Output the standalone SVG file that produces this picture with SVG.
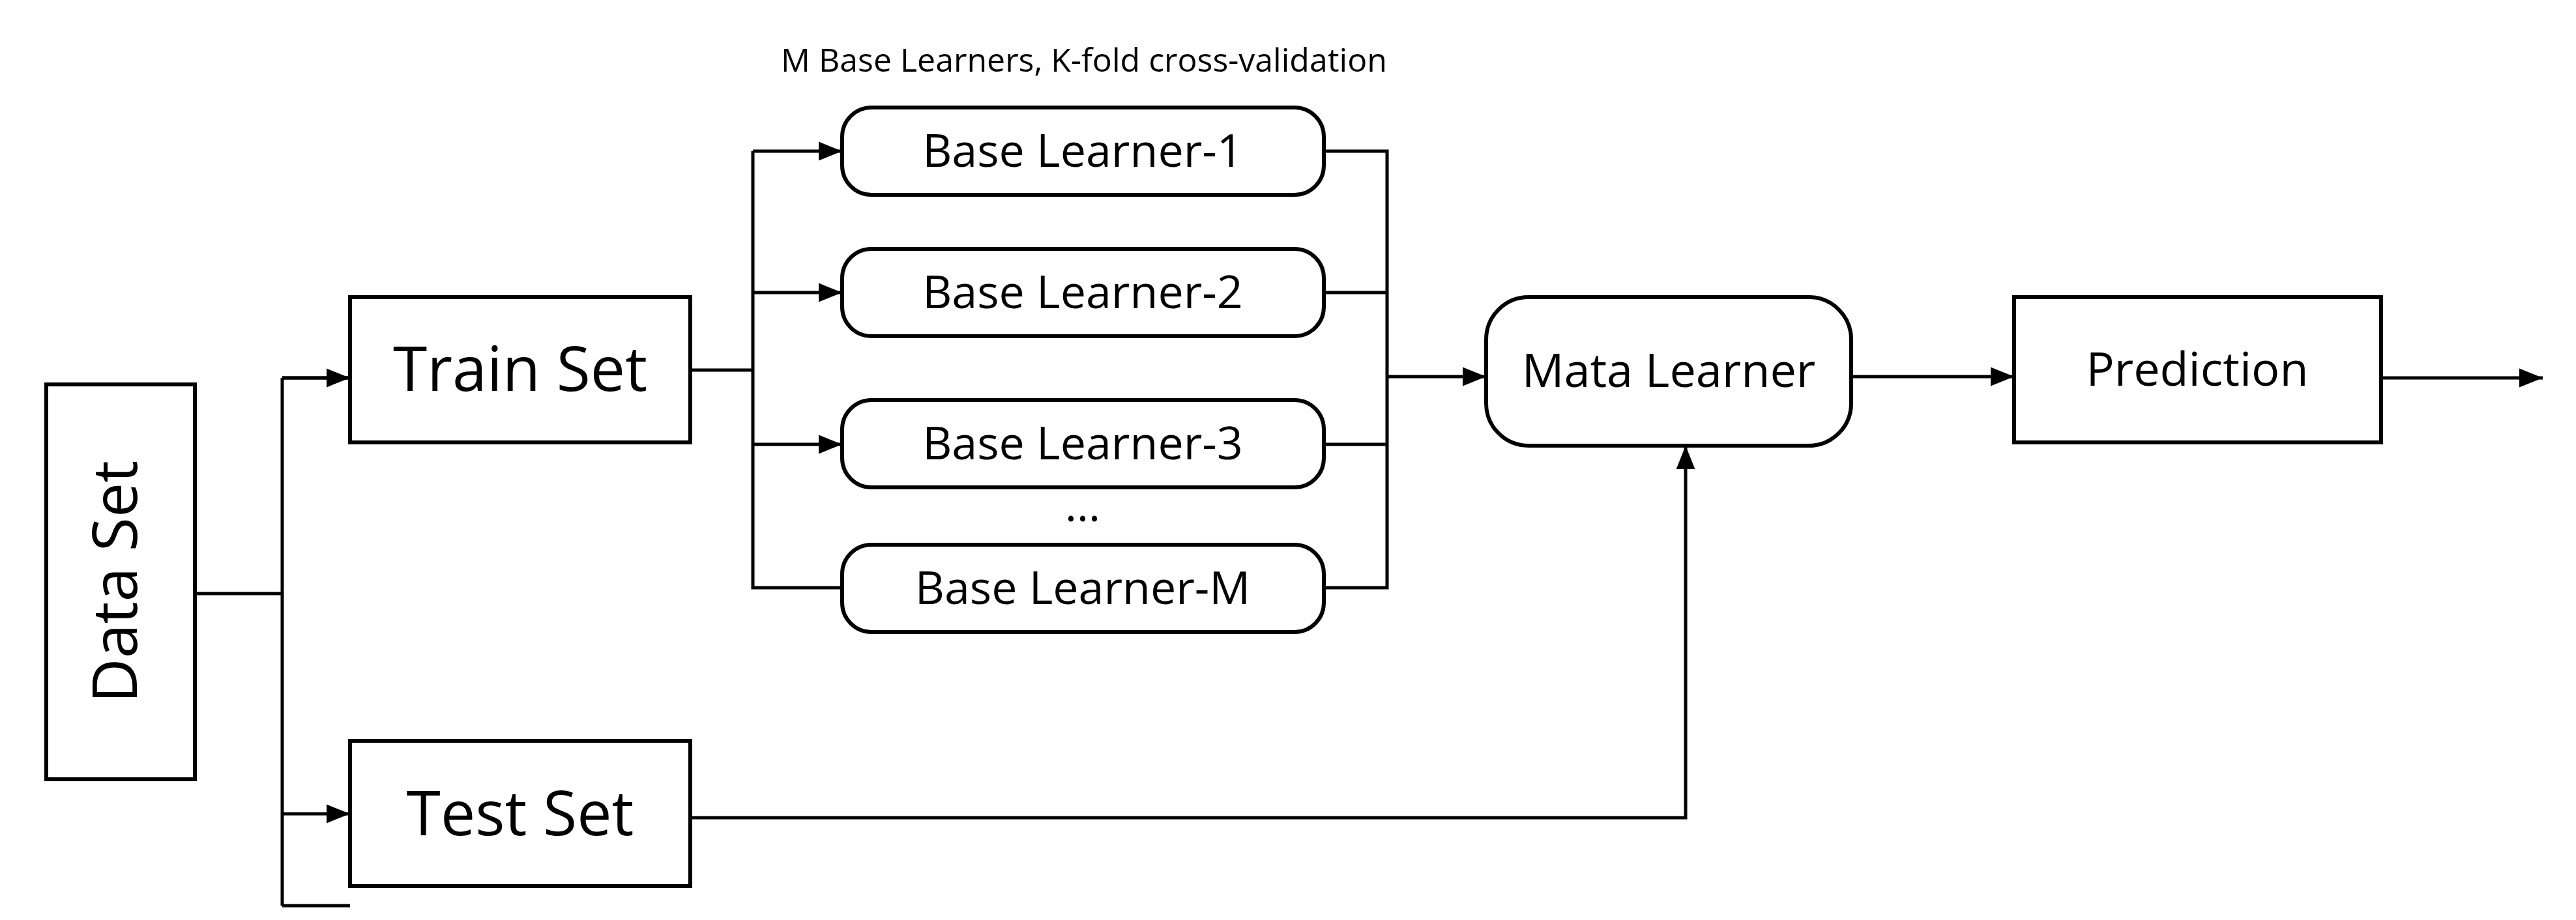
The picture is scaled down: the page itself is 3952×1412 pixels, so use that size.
<svg xmlns="http://www.w3.org/2000/svg" width="3952" height="1412" viewBox="0 0 3952 1412">
<style>
.b{fill:#fff;stroke:#000;stroke-width:6}
.t{font-family:"Open Sans","Noto Sans",sans-serif;text-anchor:middle;fill:#000}
.c{fill:none;stroke:#000;stroke-width:5}
</style>
<defs><marker id="a" markerWidth="10" markerHeight="8" refX="10" refY="4" orient="auto" markerUnits="userSpaceOnUse" viewBox="0 0 10 8"><path d="M0,0L10,4L0,8z"/></marker>
<marker id="h" viewBox="0 0 10 8" refX="10" refY="4" markerWidth="36" markerHeight="30" orient="auto" markerUnits="userSpaceOnUse"><path d="M0,0L10,4L0,8z"/></marker></defs>
<rect width="3952" height="1412" fill="#fff"/>
<text class="t" x="1663" y="110" font-size="50">M Base Learners, K-fold cross-validation</text>
<g id="connectors">
<path class="c" d="M299,911H433M433,580V1390M433,580H537M433,1390H537" />
<path class="c" d="M433,580H537" marker-end="url(#h)"/>
<path class="c" d="M433,1249H537" marker-end="url(#h)"/>
<path class="c" d="M1059,568H1155M1155,232V902H1292"/>
<path class="c" d="M1155,232H1292" marker-end="url(#h)"/>
<path class="c" d="M1155,449H1292" marker-end="url(#h)"/>
<path class="c" d="M1155,682H1292" marker-end="url(#h)"/>
<path class="c" d="M2031,232H2128V902H2031M2031,449H2128M2031,682H2128"/>
<path class="c" d="M2128,578H2280" marker-end="url(#h)"/>
<path class="c" d="M2840,578H3090" marker-end="url(#h)"/>
<path class="c" d="M3653,580H3901" marker-end="url(#h)"/>
<path class="c" d="M1059,1255H2586V684" marker-end="url(#h)"/>
</g>
<g id="data"><rect class="b" x="71" y="590" width="228" height="606"/><text class="t" font-size="95" transform="translate(210,893) rotate(-90)">Data Set</text></g>
<g id="train"><rect class="b" x="537" y="456" width="522" height="223"/><text class="t" x="798" y="600" font-size="95">Train Set</text></g>
<g id="test"><rect class="b" x="537" y="1137" width="522" height="223"/><text class="t" x="798" y="1282" font-size="95">Test Set</text></g>
<g id="bl1"><rect class="b" x="1292" y="165" width="739" height="134" rx="45"/><text class="t" x="1661" y="256" font-size="70">Base Learner-1</text></g>
<g id="bl2"><rect class="b" x="1292" y="382" width="739" height="134" rx="45"/><text class="t" x="1661" y="473" font-size="70">Base Learner-2</text></g>
<g id="bl3"><rect class="b" x="1292" y="614" width="739" height="134" rx="45"/><text class="t" x="1661" y="705" font-size="70">Base Learner-3</text></g>
<text class="t" x="1661" y="800" font-size="70">…</text>
<g id="blm"><rect class="b" x="1292" y="836" width="739" height="134" rx="45"/><text class="t" x="1661" y="927" font-size="70">Base Learner-M</text></g>
<g id="meta"><rect class="b" x="2280" y="456" width="560" height="228" rx="65"/><text class="t" x="2560" y="594" font-size="72">Mata Learner</text></g>
<g id="pred"><rect class="b" x="3090" y="456" width="563" height="223" rx="0"/><text class="t" x="3371" y="592" font-size="72">Prediction</text></g>
</svg>
